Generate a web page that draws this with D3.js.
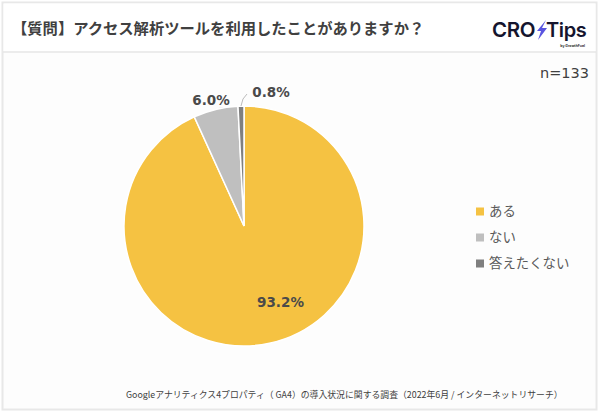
<!DOCTYPE html>
<html>
<head>
<meta charset="utf-8">
<script src="https://cdn.jsdelivr.net/npm/d3@7"></script>
<style>
  html, body { margin: 0; padding: 0; background: #fff; }
  text { font-family: "Noto Sans CJK JP", "Noto Sans", sans-serif; }
</style>
</head>
<body>
<div id="chart"></div>
<script>
const categories = ["ある", "ない", "答えたくない"];
const shares = [93.2, 6.0, 0.8];
const shareLabels = ["93.2%", "6.0%", "0.8%"];
const colors = ["#f5c242", "#bfbfbf", "#7f7f7f"];

const width = 600, height = 415;
const cx = 244, cy = 226, radius = 120;

const svg = d3.select("#chart").append("svg")
  .attr("width", width)
  .attr("height", height)
  .style("display", "block");

// card and header
svg.append("rect").attr("x", 2.5).attr("y", 2.5).attr("width", 594).attr("height", 407)
  .attr("fill", "#fdfdfd").attr("stroke", "#e8e8e8").attr("stroke-width", 2);
svg.append("rect").attr("x", 3.5).attr("y", 3.5).attr("width", 592).attr("height", 48).attr("fill", "#fff");
svg.append("line").attr("x1", 3).attr("x2", 596).attr("y1", 52).attr("y2", 52)
  .attr("stroke", "#e6e6e6").attr("stroke-width", 1.5);

svg.append("text").attr("x", 12).attr("y", 34)
  .attr("font-size", 15.3).attr("font-weight", 700).attr("fill", "#404040")
  .text("【質問】アクセス解析ツールを利用したことがありますか？");

// logo
const logo = svg.append("g");
logo.append("text").attr("x", 492).attr("y", 37)
  .attr("font-size", 20.5).attr("font-weight", 600).attr("fill", "#15152e")
  .style("font-family", "Inter").attr("letter-spacing", -0.4).text("CRO");
logo.append("path").attr("d", "M546 20 L537 31 L541 31 L538 40 L547 28 L542 28 Z").attr("fill", "#5a55e0");
logo.append("text").attr("x", 546).attr("y", 37)
  .attr("font-size", 20).attr("font-weight", 600).attr("fill", "#15152e")
  .style("font-family", "Inter").attr("letter-spacing", -0.4).text("Tips");
logo.append("text").attr("x", 585).attr("y", 47).attr("text-anchor", "end")
  .attr("font-size", 3.5).attr("font-weight", 700).attr("fill", "#333")
  .style("font-family", "Inter").text("by GrowthFuel");

svg.append("text").attr("x", 589).attr("y", 78).attr("text-anchor", "end")
  .attr("font-size", 14.5).attr("fill", "#404040").style("font-family", "DejaVu Sans").text("n=133");

// pie
const pie = d3.pie().sort(null).value((d) => d);
const arc = d3.arc().innerRadius(0).outerRadius(radius);
const arcs = pie(shares);

svg.append("g").attr("transform", "translate(" + cx + "," + cy + ")")
  .selectAll("path")
  .data(arcs)
  .enter()
  .append("path")
  .attr("d", arc)
  .attr("fill", (d, i) => colors[i])
  .attr("stroke", "#fff")
  .attr("stroke-width", 1.5);

// leader line for the smallest slice
const small = d3.arc().innerRadius(radius).outerRadius(radius).centroid(arcs[2]);
svg.append("path")
  .attr("d", d3.line()([
    [cx + small[0], cy + small[1]],
    [cx + small[0] + 2, cy + small[1] - 7],
    [cx + small[0] + 6, cy + small[1] - 12],
  ]))
  .attr("fill", "none").attr("stroke", "#bbb").attr("stroke-width", 1);

const labelPos = [[280.5, 307], [211, 105], [271, 97]];
svg.selectAll(".pct")
  .data(shareLabels)
  .enter()
  .append("text")
  .attr("class", "pct")
  .attr("x", (d, i) => labelPos[i][0])
  .attr("y", (d, i) => labelPos[i][1])
  .attr("text-anchor", "middle")
  .attr("font-size", 13.5)
  .attr("font-weight", 700)
  .attr("fill", "#4a4a4a")
  .style("font-family", "DejaVu Sans")
  .text((d) => d);

// legend
const legendY = d3.scalePoint().domain(categories).range([211, 263]);
const legend = svg.selectAll(".legend")
  .data(categories)
  .enter()
  .append("g")
  .attr("class", "legend")
  .attr("transform", (d) => "translate(476," + legendY(d) + ")");
legend.append("rect").attr("x", 0).attr("y", -3.5).attr("width", 8).attr("height", 8)
  .attr("fill", (d, i) => colors[i]);
legend.append("text").attr("x", 13).attr("y", 4.5)
  .attr("font-size", 13.4).attr("fill", "#595959").text((d) => d);

svg.append("text").attr("x", 126).attr("y", 398)
  .attr("font-size", 8.85).attr("fill", "#404040")
  .text("Googleアナリティクス4プロパティ（ GA4）の導入状況に関する調査（2022年6月 / インターネットリサーチ）");
</script>
</body>
</html>
